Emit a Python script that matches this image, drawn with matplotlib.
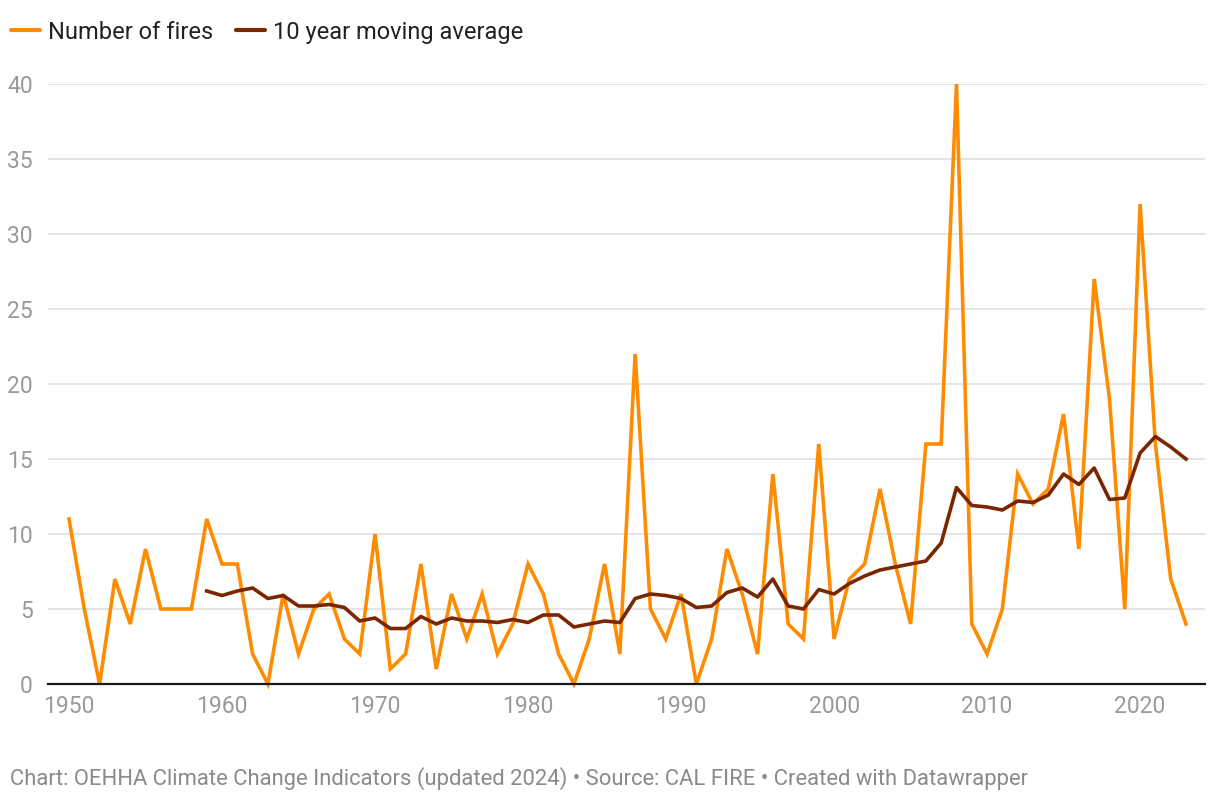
import matplotlib.pyplot as plt
from matplotlib.lines import Line2D

years = list(range(1950, 2024))
fires = [11, 5, 0, 7, 4, 9, 5, 5, 5, 11,
         8, 8, 2, 0, 6, 2, 5, 6, 3, 2,
         10, 1, 2, 8, 1, 6, 3, 6, 2, 4,
         8, 6, 2, 0, 3, 8, 2, 22, 5, 3,
         6, 0, 3, 9, 6, 2, 14, 4, 3, 16,
         3, 7, 8, 13, 8, 4, 16, 16, 40, 4,
         2, 5, 14, 12, 13, 18, 9, 27, 19, 5,
         32, 16, 7, 4]

avg_years = list(range(1959, 2024))
moving_avg = [6.2,
              5.9, 6.2, 6.4, 5.7, 5.9, 5.2, 5.2, 5.3, 5.1, 4.2,
              4.4, 3.7, 3.7, 4.5, 4.0, 4.4, 4.2, 4.2, 4.1, 4.3,
              4.1, 4.6, 4.6, 3.8, 4.0, 4.2, 4.1, 5.7, 6.0, 5.9,
              5.7, 5.1, 5.2, 6.1, 6.4, 5.8, 7.0, 5.2, 5.0, 6.3,
              6.0, 6.7, 7.2, 7.6, 7.8, 8.0, 8.2, 9.4, 13.1, 11.9,
              11.8, 11.6, 12.2, 12.1, 12.6, 14.0, 13.3, 14.4, 12.3, 12.4,
              15.4, 16.5, 15.8, 15.0]

y_ticks = [0, 5, 10, 15, 20, 25, 30, 35, 40]
x_ticks = [1950, 1960, 1970, 1980, 1990, 2000, 2010, 2020]

ORANGE = "#ff8c00"
BROWN = "#7a2600"
GREY = "#9a9a9a"

plt.rcParams['font.family'] = ['Roboto', 'DejaVu Sans']

W, H = 1220, 800
fig = plt.figure(figsize=(W / 100, H / 100), dpi=100)
ax = fig.add_axes([48 / W, (H - 684) / H, (1205 - 48) / W, (684 - 84) / H])

ax.plot(years, fires, color=ORANGE, lw=2.6, solid_joinstyle='miter', clip_on=False, zorder=3)
ax.plot(avg_years, moving_avg, color=BROWN, lw=2.6, solid_joinstyle='round', clip_on=False, zorder=4)

ax.set_xlim(1950 - 21 / 15.3, 2023 + 19 / 15.3)
ax.set_ylim(0, 40)
ax.set_yticks(y_ticks)
ax.set_xticks(x_ticks)
ax.grid(axis='y', color='#e3e3e3', lw=1.3)
ax.set_axisbelow(True)
for side in ['top', 'right', 'left']:
    ax.spines[side].set_visible(False)
ax.spines['bottom'].set_color('#1a1a1a')
ax.spines['bottom'].set_linewidth(1.6)
ax.spines['bottom'].set_zorder(5)
ax.tick_params(axis='both', length=0, labelsize=16.5, labelcolor=GREY)
ax.tick_params(axis='y', pad=11)
ax.tick_params(axis='x', pad=8)
for lab in ax.get_yticklabels():
    lab.set_horizontalalignment('right')

# legend at top left
fig.add_artist(Line2D([11 / W, 40 / W], [1 - 30 / H] * 2, color=ORANGE, lw=3, solid_capstyle='round'))
fig.text(48 / W, 1 - 30 / H, "Number of fires", fontsize=17, color='#222222', va='center_baseline')
fig.add_artist(Line2D([236 / W, 265 / W], [1 - 30 / H] * 2, color=BROWN, lw=3, solid_capstyle='round'))
fig.text(273 / W, 1 - 30 / H, "10 year moving average", fontsize=17, color='#222222', va='center_baseline')

fig.text(10 / W, 1 - 776 / H,
         "Chart: OEHHA Climate Change Indicators (updated 2024) \u2022 Source: CAL FIRE \u2022 Created with Datawrapper",
         fontsize=15.8, color='#8a8a8a', va='center_baseline')

fig.savefig("out.png", dpi=100)
plt.close(fig)
